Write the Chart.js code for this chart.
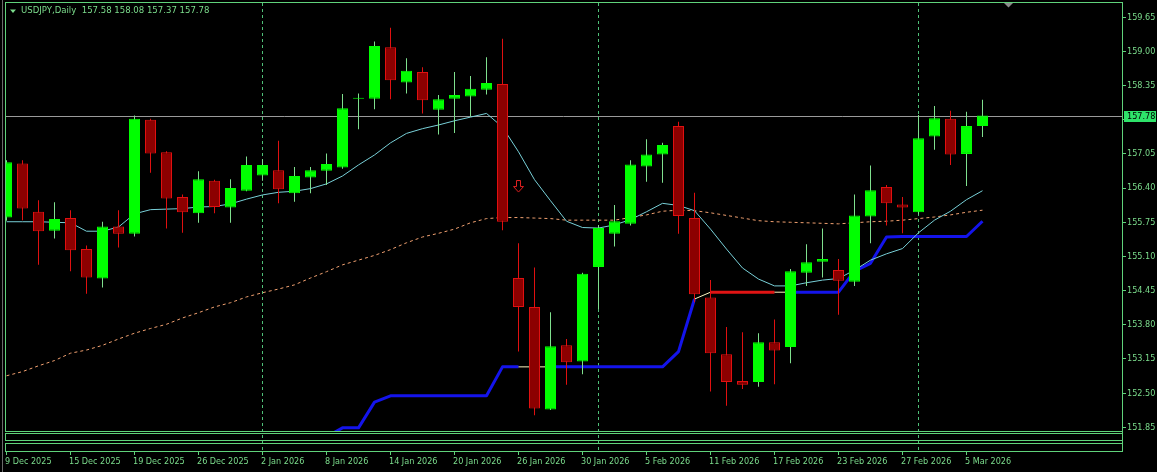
<!DOCTYPE html>
<html>
<head>
<meta charset="utf-8">
<script src="https://cdn.jsdelivr.net/npm/chart.js"></script>
<style>
html,body{margin:0;padding:0;background:#000;overflow:hidden}
#wrap{width:1157px;height:472px;position:relative;background:#000}
canvas{display:block}
</style>
</head>
<body>
<div id="wrap"><canvas id="c" width="1157" height="472"></canvas></div>
<script>
// ---------------- data ----------------
const symbol = 'USDJPY';
const period = 'Daily';

const dates = ['9 Dec 2025','10 Dec 2025','11 Dec 2025','12 Dec 2025','15 Dec 2025','16 Dec 2025','17 Dec 2025','18 Dec 2025','19 Dec 2025','22 Dec 2025','23 Dec 2025','24 Dec 2025','26 Dec 2025','29 Dec 2025','30 Dec 2025','31 Dec 2025','2 Jan 2026','5 Jan 2026','6 Jan 2026','7 Jan 2026','8 Jan 2026','9 Jan 2026','12 Jan 2026','13 Jan 2026','14 Jan 2026','15 Jan 2026','16 Jan 2026','19 Jan 2026','20 Jan 2026','21 Jan 2026','22 Jan 2026','23 Jan 2026','26 Jan 2026','27 Jan 2026','28 Jan 2026','29 Jan 2026','30 Jan 2026','2 Feb 2026','3 Feb 2026','4 Feb 2026','5 Feb 2026','6 Feb 2026','9 Feb 2026','10 Feb 2026','11 Feb 2026','12 Feb 2026','13 Feb 2026','16 Feb 2026','17 Feb 2026','18 Feb 2026','19 Feb 2026','20 Feb 2026','23 Feb 2026','24 Feb 2026','25 Feb 2026','26 Feb 2026','27 Feb 2026','2 Mar 2026','3 Mar 2026','4 Mar 2026','5 Mar 2026','6 Mar 2026'];

const opens  = [155.84,156.87,155.95,155.59,155.83,155.24,154.68,155.67,155.53,157.70,157.08,156.23,155.92,156.54,156.03,156.35,156.64,156.74,156.30,156.60,156.73,156.79,158.10,158.10,159.08,158.41,158.61,157.89,158.10,158.14,158.27,158.38,154.69,154.14,152.19,153.41,153.10,154.90,155.53,155.72,156.81,157.04,157.58,155.83,154.32,153.24,152.73,152.71,153.47,153.38,154.79,155.00,154.84,154.62,155.86,156.42,156.09,155.94,157.38,157.72,157.05,157.58];
const highs  = [156.93,156.93,156.17,156.13,155.98,155.31,155.76,155.98,157.78,157.72,157.10,156.28,156.72,156.56,156.57,157.00,156.95,157.30,156.80,156.80,157.06,158.19,158.20,159.19,159.45,158.87,158.70,158.17,158.61,158.53,158.89,159.24,155.35,154.89,154.04,153.53,154.79,155.70,156.08,156.93,157.33,157.26,157.66,156.31,154.65,153.76,153.66,153.64,153.90,154.86,155.33,155.63,155.05,156.28,156.83,156.46,156.23,157.79,157.96,157.87,157.85,158.08];
const lows   = [155.78,155.79,154.94,155.44,154.82,154.39,154.51,155.27,155.48,156.69,155.63,155.55,155.74,155.92,155.74,156.34,156.54,156.11,156.14,156.30,156.46,156.77,157.52,157.90,158.09,158.20,157.82,157.42,157.45,157.76,158.18,155.60,153.29,152.08,152.18,152.66,152.86,154.10,155.29,155.69,156.52,156.50,155.53,154.23,152.53,152.26,152.58,152.62,152.67,153.07,154.54,154.70,153.99,154.54,155.35,155.69,155.54,155.90,157.13,156.84,156.44,157.37];
const closes = [156.89,156.01,155.58,155.81,155.22,154.70,155.67,155.53,157.72,157.06,156.20,155.94,156.57,156.04,156.40,156.84,156.84,156.38,156.63,156.74,156.86,157.92,158.12,159.10,158.45,158.63,158.07,158.09,158.17,158.29,158.40,155.76,154.14,152.21,153.39,153.09,154.77,155.64,155.77,156.85,157.04,157.22,155.87,154.38,153.26,152.71,152.66,153.47,153.31,154.82,154.99,155.05,154.64,155.88,156.36,156.11,156.03,157.35,157.73,157.04,157.58,157.78];

// fast moving average (cyan)
const maFast = [155.76,155.76,155.76,155.75,155.74,155.58,155.58,155.66,155.91,155.99,156.00,156.01,156.04,156.05,156.10,156.19,156.27,156.32,156.34,156.39,156.48,156.63,156.84,157.03,157.26,157.44,157.53,157.60,157.68,157.75,157.82,157.56,157.09,156.56,156.16,155.77,155.65,155.64,155.70,155.80,155.95,156.11,156.07,155.97,155.62,155.24,154.88,154.67,154.54,154.54,154.60,154.65,154.68,154.84,155.03,155.15,155.25,155.55,155.79,155.96,156.18,156.35];
// slow moving average (dashed orange)
const maSlow = [152.83,152.91,153.02,153.12,153.26,153.32,153.41,153.53,153.64,153.73,153.81,153.93,154.03,154.14,154.22,154.33,154.41,154.48,154.56,154.69,154.81,154.94,155.03,155.12,155.23,155.36,155.47,155.54,155.62,155.74,155.82,155.84,155.84,155.83,155.82,155.79,155.79,155.79,155.79,155.84,155.89,155.96,155.98,155.97,155.93,155.88,155.83,155.78,155.76,155.75,155.74,155.73,155.72,155.74,155.76,155.77,155.79,155.82,155.85,155.89,155.94,155.98];
// trailing trend line (blue / red) and its state per segment
const trendLine = [null,null,null,null,null,null,null,null,null,null,null,null,null,null,null,null,null,null,null,null,151.67,151.84,151.84,152.33,152.45,152.45,152.45,152.45,152.45,152.45,152.45,153.00,153.00,153.00,153.00,153.00,153.00,153.00,153.00,153.00,153.00,153.00,153.29,154.29,154.42,154.42,154.42,154.42,154.42,154.42,154.42,154.42,154.42,154.82,154.97,155.47,155.48,155.48,155.48,155.48,155.48,155.77];
const trendState = ['u','u','u','u','u','u','u','u','u','u','u','u','u','u','u','u','u','u','u','u','u','u','u','u','u','u','u','u','u','u','u','u','f','f','u','u','u','u','u','u','u','u','u','f','d','d','d','d','f','u','u','u','u','u','u','u','u','u','u','u','u','u'];
// sell signal arrows
const signalBars = [32];
const signalPrices = [156.43];
// price axis tick labels
const priceTicks = [159.65,159.00,158.35,157.70,157.05,156.40,155.75,155.10,154.45,153.80,153.15,152.50,151.85];

// ---------------- styles ----------------
const TEXT = '#7bdc8c';
const FRAME = '#5fd27a';
const SEP = '#4fc078';
const BULL = '#00ff00';
const BULL_WICK = '#7fe08e';
const BEAR_FILL = '#8c0000';
const BEAR_EDGE = '#e01010';
const FONT = '"DejaVu Sans Condensed","DejaVu Sans",sans-serif';

const n = dates.length;
const idx = dates.map((_, i) => i);
const isBull = i => closes[i] >= opens[i];
const labelIdx = idx.filter(i => i % 4 === 0);
const monthStart = idx.filter(i => i > 0 && dates[i].split(' ')[1] !== dates[i - 1].split(' ')[1]);

const X_MIN = -0.09375, X_MAX = 69.71875;
const Y_MIN = 151.40, Y_MAX = 159.92;
const LINE_CLIP = {left: 0, top: 0, right: 0, bottom: -20};

// hollow down arrow for the signal
const arrow = document.createElement('canvas');
arrow.width = 11; arrow.height = 13;
(function () {
  const c = arrow.getContext('2d');
  c.strokeStyle = '#e02020'; c.lineWidth = 1;
  c.beginPath();
  c.moveTo(3.5, 0.5); c.lineTo(7.5, 0.5); c.lineTo(7.5, 6.5); c.lineTo(10.5, 6.5);
  c.lineTo(5.5, 12); c.lineTo(0.5, 6.5); c.lineTo(3.5, 6.5); c.closePath();
  c.stroke();
})();

Chart.defaults.font.family = FONT;
Chart.defaults.font.size = 9;

const decor = {
  id: 'decor',
  beforeDatasetsDraw(chart) {
    const {ctx, chartArea: a, scales: {y}} = chart;
    const py = Math.round(y.getPixelForValue(closes[n - 1])) + 0.5;
    ctx.save();
    ctx.strokeStyle = '#9a9a9a'; ctx.lineWidth = 1;
    ctx.beginPath(); ctx.moveTo(a.left, py); ctx.lineTo(a.right, py); ctx.stroke();
    ctx.restore();
  },
  afterDatasetsDraw(chart) {
    const {ctx, chartArea: a, scales: {y}} = chart;
    const L = a.left + 0.5, R = a.right + 0.5, B = a.bottom;
    ctx.save();
    // window edge
    ctx.strokeStyle = '#6a6a6a'; ctx.lineWidth = 1;
    ctx.beginPath(); ctx.moveTo(2.5, 0); ctx.lineTo(2.5, 472); ctx.stroke();
    ctx.strokeStyle = FRAME;
    // main window frame
    ctx.strokeRect(L, a.top - 0.5, R - L, (B - 20 + 0.5) - (a.top - 0.5));
    // two empty sub-windows
    ctx.strokeRect(L, B - 18 + 0.5, R - L, 7);
    ctx.strokeRect(L, B - 8 + 0.5, R - L, 8);
    // title
    ctx.fillStyle = TEXT;
    ctx.beginPath(); ctx.moveTo(10, 9.5); ctx.lineTo(16, 9.5); ctx.lineTo(13, 13); ctx.closePath(); ctx.fill();
    ctx.font = '9.5px ' + FONT;
    ctx.textBaseline = 'middle'; ctx.textAlign = 'left';
    const o = opens[n - 1].toFixed(2), h = highs[n - 1].toFixed(2), l = lows[n - 1].toFixed(2), c = closes[n - 1].toFixed(2);
    ctx.fillText(symbol + ',' + period + '  ' + o + ' ' + h + ' ' + l + ' ' + c, 21, 11);
    // chart shift marker
    ctx.fillStyle = '#8a8a8a';
    ctx.beginPath(); ctx.moveTo(1004, 3); ctx.lineTo(1013, 3); ctx.lineTo(1008.5, 7.5); ctx.closePath(); ctx.fill();
    // last price box
    const py = Math.round(y.getPixelForValue(closes[n - 1]));
    ctx.fillStyle = '#2ee36a';
    ctx.fillRect(a.right + 2, py - 5, 32, 11);
    ctx.fillStyle = '#000';
    ctx.font = '9px ' + FONT;
    ctx.fillText(closes[n - 1].toFixed(2), a.right + 5, py + 0.5);
    ctx.restore();
  }
};

const chart = new Chart(document.getElementById('c'), {
  type: 'bar',
  data: {
    datasets: [
      {
        type: 'scatter', label: 'signal', order: -1,
        data: signalBars.map((b, k) => ({x: b, y: signalPrices[k]})),
        pointStyle: arrow, pointRadius: 6, showLine: false
      },
      {
        type: 'bar', label: 'body', order: 0,
        data: idx.map(i => ({x: i, y: [Math.min(opens[i], closes[i]), Math.max(opens[i], closes[i])]})),
        backgroundColor: c => isBull(c.dataIndex) ? BULL : BEAR_FILL,
        borderColor: c => isBull(c.dataIndex) ? BULL : BEAR_EDGE,
        borderWidth: 1, borderSkipped: false, barThickness: 11, grouped: false,
        inflateAmount: 0, minBarLength: 1, clip: 0
      },
      {
        type: 'bar', label: 'wick', order: 1,
        data: idx.map(i => ({x: i, y: [lows[i], highs[i]]})),
        backgroundColor: c => isBull(c.dataIndex) ? BULL_WICK : BEAR_EDGE,
        borderWidth: 0, barThickness: 1, grouped: false, inflateAmount: 0, clip: 0
      },
      {
        type: 'line', label: 'maFast', order: 2,
        data: idx.map(i => ({x: i, y: maFast[i]})),
        borderColor: '#78d0d8', borderWidth: 1, pointRadius: 0, tension: 0, clip: LINE_CLIP
      },
      {
        type: 'line', label: 'trend', order: 3,
        data: idx.map(i => ({x: i, y: trendLine[i]})),
        borderColor: 'rgb(20,20,235)', borderWidth: 3, pointRadius: 0, tension: 0, spanGaps: false,
        borderJoinStyle: 'round', clip: LINE_CLIP,
        segment: {
          borderColor: c => { const s = trendState[c.p0DataIndex]; return s === 'd' ? 'rgb(225,20,20)' : s === 'f' ? '#fff6c0' : 'rgb(20,20,235)'; },
          borderWidth: c => trendState[c.p0DataIndex] === 'f' ? 1 : 3
        }
      },
      {
        type: 'line', label: 'maSlow', order: 4,
        data: idx.map(i => ({x: i, y: maSlow[i]})),
        borderColor: '#f0a070', borderWidth: 1, borderDash: [3, 3], pointRadius: 0, tension: 0, clip: LINE_CLIP
      }
    ]
  },
  options: {
    responsive: false, animation: false, devicePixelRatio: 1,
    layout: {autoPadding: false, padding: {left: 5, top: 3, right: 0, bottom: 0}},
    plugins: {legend: {display: false}, tooltip: {enabled: false}, title: {display: false}},
    scales: {
      x: {
        type: 'linear', position: 'bottom', min: X_MIN, max: X_MAX, offset: false,
        grid: {drawOnChartArea: false, drawTicks: true, tickLength: 4, tickColor: FRAME, offset: false},
        border: {display: true, color: FRAME},
        ticks: {autoSkip: false, maxRotation: 0, minRotation: 0, align: 'start', padding: 1, labelOffset: -1.5, color: TEXT,
          font: {size: 9}, callback: v => dates[v] !== undefined ? dates[v] : ''},
        afterBuildTicks: s => { s.ticks = labelIdx.map(v => ({value: v})); },
        afterFit: s => { s.height = 21; s.paddingLeft = 0; s.paddingRight = 0; }
      },
      sep: {
        type: 'linear', position: 'top', min: X_MIN, max: X_MAX, offset: false,
        ticks: {display: false},
        grid: {drawOnChartArea: true, drawTicks: false, color: SEP, lineWidth: 1, offset: false},
        border: {display: false, dash: [3, 3]},
        afterBuildTicks: s => { s.ticks = monthStart.map(v => ({value: v})); },
        afterFit: s => { s.height = 0; s.paddingLeft = 0; s.paddingRight = 0; }
      },
      y: {
        type: 'linear', position: 'right', min: Y_MIN, max: Y_MAX,
        grid: {drawOnChartArea: false, drawTicks: true, tickLength: 4, tickColor: FRAME},
        border: {display: true, color: FRAME},
        ticks: {color: TEXT, padding: 1, font: {size: 9}, callback: v => Number(v).toFixed(2)},
        afterBuildTicks: s => { s.ticks = priceTicks.map(v => ({value: v})); },
        afterFit: s => { s.width = 35; s.paddingTop = 0; s.paddingBottom = 0; }
      }
    }
  },
  plugins: [decor]
});
</script>
</body>
</html>
